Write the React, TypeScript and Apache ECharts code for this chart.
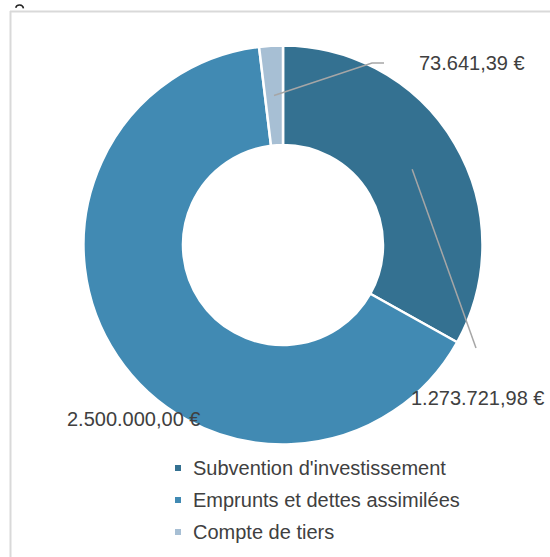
import React, { useEffect, useRef } from "react";
import * as echarts from "echarts";

const categories = ["Subvention d'investissement", "Emprunts et dettes assimilées", "Compte de tiers"];
const values = [1273721.98, 2500000.0, 73641.39];
const colors = ["#347191", "#418ab3", "#a7bfd4"];

const FONT = "'Liberation Sans', Arial, sans-serif";

function fmt(v: number): string {
  const fixed = v.toFixed(2);
  const [intPart, dec] = fixed.split(".");
  const withDots = intPart.replace(/\B(?=(\d{3})+(?!\d))/g, ".");
  return withDots + "," + dec + " €";
}

export default function App() {
  const ref = useRef<HTMLDivElement>(null);
  useEffect(() => {
    if (!ref.current) return;
    const chart = echarts.init(ref.current, null, { renderer: "svg" });
    const cx = 283;
    const cy = 245;
    const rIn = 100;
    const rOut = 199.5;
    const rMid = (rIn + rOut) / 2;
    const total = values.reduce((a, b) => a + b, 0);
    const centroid = (i: number) => {
      let cum = 0;
      for (let k = 0; k < i; k++) cum += values[k];
      const th = ((cum + values[i] / 2) / total) * Math.PI * 2;
      return [cx + rMid * Math.sin(th), cy - rMid * Math.cos(th)];
    };
    const labelPos = [
      { x: 411, y: 398, line: [[476, 348]] },
      { x: 67, y: 419, line: null },
      { x: 419, y: 63, line: [[372, 63], [384, 63]] },
    ];
    chart.setOption({
      animation: false,
      backgroundColor: "#ffffff",
      graphic: [
        { type: "line", shape: { x1: 10.5, y1: 11, x2: 10.5, y2: 557 }, style: { stroke: "#d9d9d9", lineWidth: 2 } },
        { type: "line", shape: { x1: 10, y1: 11.5, x2: 550, y2: 11.5 }, style: { stroke: "#d9d9d9", lineWidth: 2 } },
        { type: "arc", shape: { cx: 19.5, cy: 9, r: 4, startAngle: Math.PI * 1.1, endAngle: Math.PI * 1.95 }, style: { stroke: "#222", lineWidth: 1.5, fill: null } },
      ],
      legend: {
        orient: "vertical",
        left: 168,
        top: 451,
        itemWidth: 8,
        itemHeight: 8,
        itemGap: 8,
        icon: "rect",
        data: categories,
        textStyle: { fontFamily: FONT, fontSize: 20, color: "#404040", lineHeight: 24, padding: [0, 0, 0, 6] },
      },
      series: [
        {
          type: "pie",
          z: 2,
          center: [cx, cy],
          radius: [rIn, rOut],
          startAngle: 90,
          clockwise: true,
          itemStyle: { borderColor: "#ffffff", borderWidth: 2.5 },
          label: { show: false },
          labelLine: { show: false },
          data: categories.map((name, i) => ({
            name,
            value: values[i],
            itemStyle: { color: colors[i] },
          })),
        },
        {
          type: "pie",
          z: 5,
          silent: true,
          legendHoverLink: false,
          center: [cx, cy],
          radius: [rIn, rOut],
          startAngle: 90,
          clockwise: true,
          avoidLabelOverlap: false,
          itemStyle: { color: "rgba(0,0,0,0)", borderWidth: 0 },
          label: {
            show: true,
            position: "outside",
            formatter: (p: any) => fmt(p.value),
            fontFamily: FONT,
            fontSize: 20,
            color: "#404040",
          },
          labelLine: { show: true, length: 10, length2: 10, lineStyle: { color: "#a6a6a6", width: 1.5 } },
          labelLayout: (params: any) => {
            const i = params.dataIndex;
            const lp = labelPos[i];
            const res: any = { x: lp.x, y: lp.y, align: "left", verticalAlign: "middle" };
            if (lp.line) {
              res.labelLinePoints = [centroid(i), ...lp.line];
            }
            return res;
          },
          data: categories.map((name, i) => ({
            name,
            value: values[i],
            labelLine: { show: i !== 1 },
          })),
        },
      ],
    });
    return () => chart.dispose();
  }, []);
  return <div ref={ref} style={{ position: "absolute", left: 0, top: 0, width: 550, height: 557 }} />;
}
